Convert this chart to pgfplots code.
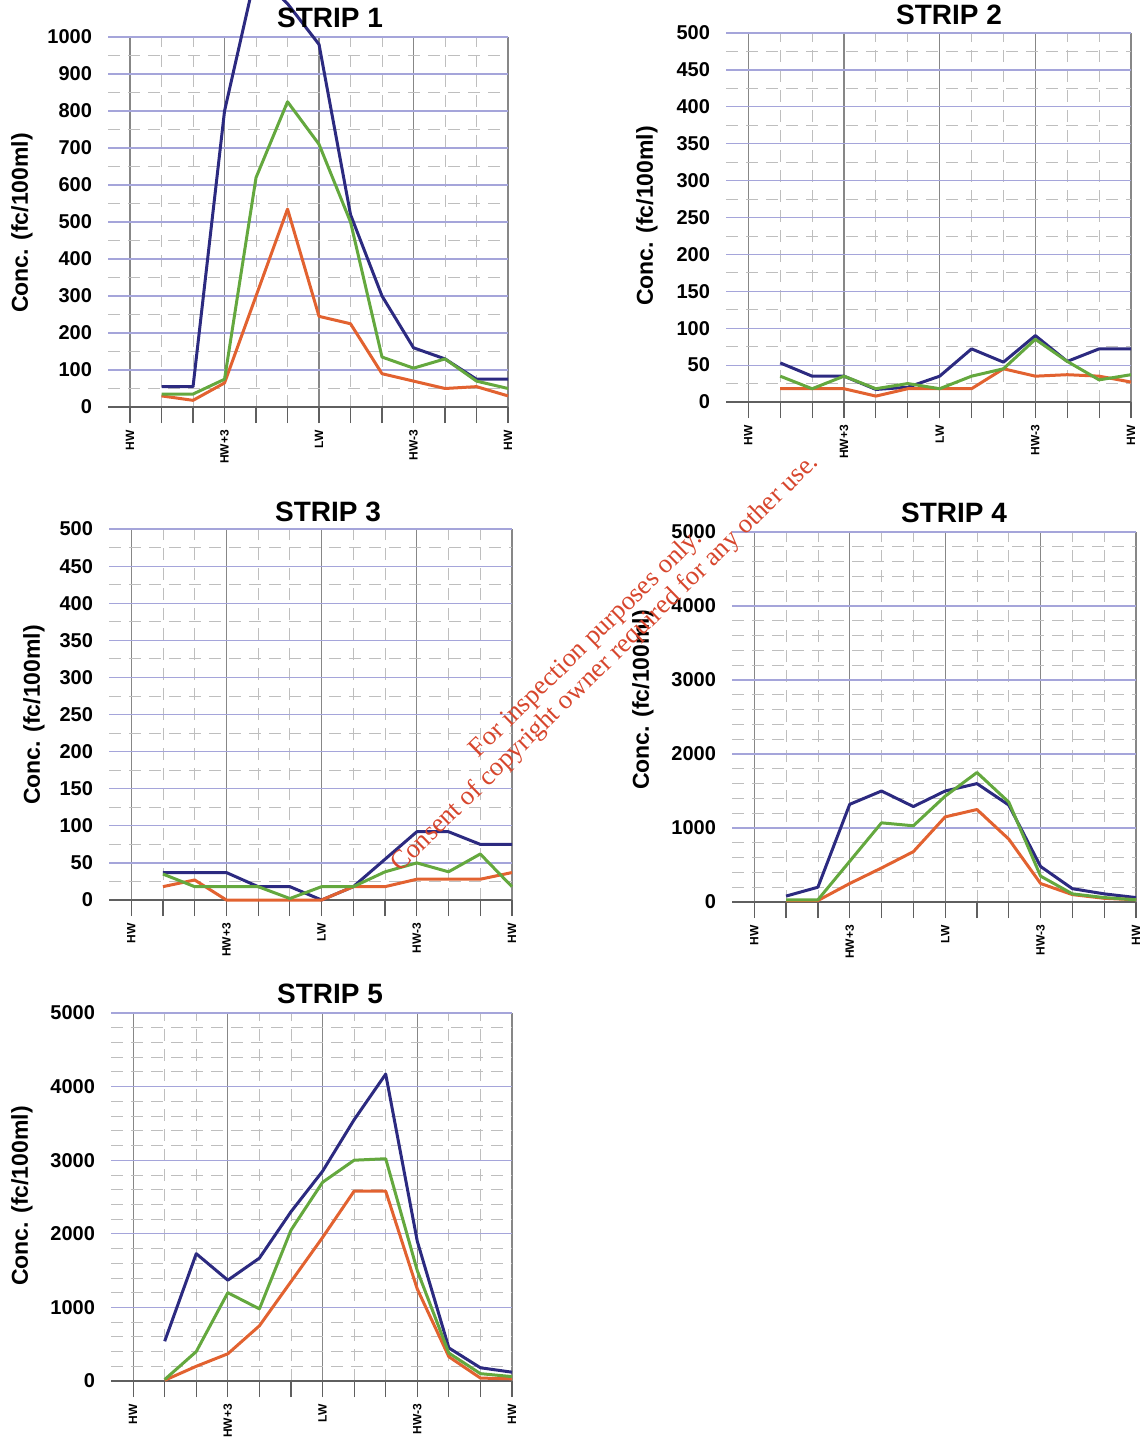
\documentclass[border=0pt]{standalone}
\usepackage{pgfplots}
\pgfplotsset{compat=1.18}
\usepackage{fontspec}
\setmainfont{Liberation Sans}
\newfontfamily\wmfont{Liberation Serif}
\definecolor{sblue}{RGB}{44,42,128}
\definecolor{sgreen}{RGB}{100,168,62}
\definecolor{sorange}{RGB}{226,98,48}
\definecolor{vgrid}{RGB}{135,135,135}
\definecolor{hgrid}{RGB}{165,165,218}
\definecolor{mgrid}{RGB}{190,190,190}
\definecolor{axgray}{RGB}{95,95,95}
\definecolor{wmred}{RGB}{215,70,45}
\pgfplotsset{
  strip/.style={
    scale only axis, anchor=south west,
    xmin=-0.7, xmax=12, ymin=0,
    axis x line=bottom, axis y line=left,
    axis line style={-},
    x axis line style={draw=axgray, line width=0.7pt},
    y axis line style={draw=none},
    xtick={0,3,6,9,12},
    xticklabels={HW,HW+3,LW,HW-3,HW},
    minor xtick={1,2,4,5,7,8,10,11},
    tick align=outside,
    major tick length=8pt, minor tick length=8pt,
    xtick style={draw=axgray, line width=0.6pt},
    ytick style={draw=none},
    grid=both,
    major x grid style={draw=vgrid, line width=0.6pt},
    major y grid style={draw=hgrid, line width=0.6pt},
    minor grid style={draw=mgrid, line width=0.4pt, dash pattern=on 6pt off 4pt},
    /pgf/number format/assume math mode=true,
    /pgf/number format/1000 sep={},
    yticklabel style={font=\bfseries\fontsize{10}{10}\selectfont, xshift=3.5pt},
    xticklabel style={font=\bfseries\fontsize{6}{6}\selectfont, rotate=90, anchor=east},
    clip=false,
    every axis plot/.append style={line width=1.5pt, no markers, line join=round},
  }
}
\begin{document}
\begin{tikzpicture}
\useasboundingbox (0pt,0pt) rectangle (570.5pt,-721.5pt);
% STRIP 1
\begin{axis}[strip, at={(54pt,-203.5pt)}, width=200pt, height=185pt,
  ymax=1000, ytick={0,100,...,1000}, minor y tick num=1]
\addplot[sblue] coordinates {(1,55)(2,55)(3,800)(4,1175)(5,1090)(6,980)(7,520)(8,300)(9,160)(10,130)(11,75)(12,75)};
\addplot[sorange] coordinates {(1,30)(2,18)(3,65)(4,300)(5,535)(6,245)(7,225)(8,90)(9,70)(10,50)(11,55)(12,30)};
\addplot[sgreen] coordinates {(1,35)(2,35)(3,75)(4,620)(5,825)(6,710)(7,500)(8,135)(9,105)(10,130)(11,70)(12,50)};
\end{axis}
% STRIP 2
\begin{axis}[strip, at={(363pt,-201pt)}, width=202.5pt, height=184.5pt,
  ymax=500, ytick={0,50,...,500}, minor y tick num=1]
\addplot[sblue] coordinates {(1,53)(2,35)(3,35)(4,17)(5,20)(6,35)(7,72)(8,54)(9,90)(10,55)(11,72)(12,72)};
\addplot[sorange] coordinates {(1,18)(2,18)(3,18)(4,8)(5,18)(6,18)(7,18)(8,45)(9,35)(10,37)(11,35)(12,27)};
\addplot[sgreen] coordinates {(1,35)(2,18)(3,35)(4,18)(5,25)(6,18)(7,35)(8,45)(9,85)(10,55)(11,30)(12,37)};
\end{axis}
% STRIP 3
\begin{axis}[strip, at={(54.5pt,-450pt)}, width=201.5pt, height=185.5pt,
  ymax=500, ytick={0,50,...,500}, minor y tick num=1]
\addplot[sblue] coordinates {(1,37)(2,37)(3,37)(4,18)(5,18)(6,0)(7,18)(8,55)(9,92)(10,92)(11,75)(12,75)};
\addplot[sorange] coordinates {(1,18)(2,27)(3,0)(4,0)(5,0)(6,0)(7,18)(8,18)(9,28)(10,28)(11,28)(12,37)};
\addplot[sgreen] coordinates {(1,35)(2,18)(3,18)(4,18)(5,2)(6,18)(7,18)(8,38)(9,50)(10,38)(11,62)(12,18)};
\end{axis}
% STRIP 4
\begin{axis}[strip, at={(366pt,-451pt)}, width=202pt, height=185pt,
  ymax=5000, ytick={0,1000,...,5000}, minor y tick num=4]
\addplot[sblue] coordinates {(1,80)(2,200)(3,1320)(4,1500)(5,1290)(6,1500)(7,1600)(8,1310)(9,480)(10,180)(11,110)(12,60)};
\addplot[sorange] coordinates {(1,20)(2,20)(3,250)(4,460)(5,680)(6,1150)(7,1250)(8,850)(9,250)(10,100)(11,50)(12,30)};
\addplot[sgreen] coordinates {(1,30)(2,30)(3,550)(4,1070)(5,1030)(6,1430)(7,1750)(8,1350)(9,350)(10,110)(11,60)(12,30)};
\end{axis}
% STRIP 5
\begin{axis}[strip, at={(55.5pt,-690.5pt)}, width=200.5pt, height=184pt,
  ymax=5000, ytick={0,1000,...,5000}, minor y tick num=4]
\addplot[sblue] coordinates {(1,540)(2,1730)(3,1370)(4,1670)(5,2300)(6,2850)(7,3550)(8,4170)(9,1900)(10,450)(11,180)(12,120)};
\addplot[sorange] coordinates {(1,10)(2,200)(3,370)(4,750)(5,1350)(6,1950)(7,2580)(8,2580)(9,1250)(10,330)(11,40)(12,30)};
\addplot[sgreen] coordinates {(1,20)(2,400)(3,1200)(4,980)(5,2050)(6,2700)(7,3000)(8,3020)(9,1500)(10,380)(11,100)(12,60)};
\end{axis}
% titles
\begin{scope}[every node/.style={font=\bfseries\fontsize{14}{14}\selectfont, inner sep=0pt}]
\node at (165pt,-9pt) {STRIP 1};
\node at (474.5pt,-7.5pt) {STRIP 2};
\node at (164pt,-256pt) {STRIP 3};
\node at (477pt,-256.5pt) {STRIP 4};
\node at (165pt,-497pt) {STRIP 5};
\end{scope}
% y labels
\begin{scope}[every node/.style={font=\bfseries\fontsize{11.5}{11.5}\selectfont, inner sep=0pt, rotate=90}]
\node at (11pt,-111.5pt) {Conc. (fc/100ml)};
\node at (323.5pt,-108pt) {Conc. (fc/100ml)};
\node at (17pt,-357.5pt) {Conc. (fc/100ml)};
\node at (321.5pt,-350pt) {Conc. (fc/100ml)};
\node at (11pt,-598pt) {Conc. (fc/100ml)};
\end{scope}
% watermark
\node[rotate=44.3, text=wmred, font=\wmfont\fontsize{13.3}{13.6}\selectfont, align=center, inner sep=0pt] at (298pt,-327pt) {For inspection purposes only.\\Consent of copyright owner required for any other use.};
\end{tikzpicture}
\end{document}
